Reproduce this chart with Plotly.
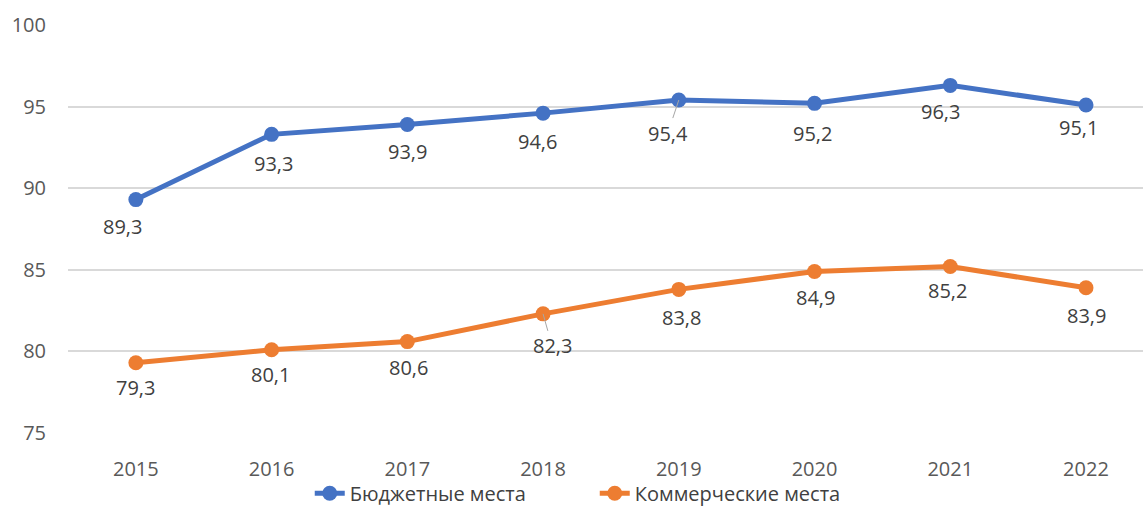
import plotly.graph_objects as go

years = ["2015", "2016", "2017", "2018", "2019", "2020", "2021", "2022"]
budget = [89.3, 93.3, 93.9, 94.6, 95.4, 95.2, 96.3, 95.1]
commercial = [79.3, 80.1, 80.6, 82.3, 83.8, 84.9, 85.2, 83.9]
series_names = ["Бюджетные места", "Коммерческие места"]
y_ticks = [75, 80, 85, 90, 95, 100]

# label offsets in pixels (dx, dy) relative to each point
budget_offsets = [(-13, 27), (2, 29), (0, 27), (-6, 28), (-11, 33), (-2, 30), (-10, 26), (-7, 23)]
commercial_offsets = [(0, 25), (-1, 25), (1, 26), (9, 32), (3, 28), (1, 26), (-3, 24), (1, 28)]
budget_leaders = [False, False, False, False, True, False, False, False]
commercial_leaders = [False, False, False, True, False, False, False, False]

BLUE = "#4472C4"
ORANGE = "#ED7D31"
FONT = "Open Sans"

fig = go.Figure()
for name, vals, color in [(series_names[0], budget, BLUE), (series_names[1], commercial, ORANGE)]:
    fig.add_trace(go.Scatter(
        x=years, y=vals, name=name, mode="lines+markers",
        line=dict(color=color, width=5),
        marker=dict(color=color, size=15),
    ))

def fmt(v):
    return f"{v:.1f}".replace(".", ",")

annotations = []
for vals, offs, leads in [(budget, budget_offsets, budget_leaders),
                          (commercial, commercial_offsets, commercial_leaders)]:
    for i, (v, (dx, dy), lead) in enumerate(zip(vals, offs, leads)):
        annotations.append(dict(
            x=i, y=v, xref="x", yref="y", text=fmt(v),
            showarrow=True, ax=dx, ay=dy, axref="pixel", ayref="pixel",
            arrowhead=0, arrowwidth=1,
            arrowcolor="#a6a6a6" if lead else "rgba(0,0,0,0)",
            standoff=0,
            font=dict(family=FONT, size=20, color="#404040"),
        ))

fig.update_layout(
    width=1143, height=509,
    margin=dict(l=68, r=0, t=25, b=76, autoexpand=False),
    paper_bgcolor="white", plot_bgcolor="white",
    showlegend=True,
    legend=dict(orientation="h", x=0.49, xanchor="center", y=-0.1, yanchor="top",
                bgcolor="rgba(0,0,0,0)",
                font=dict(family=FONT, size=20, color="#404040"),
                entrywidth=240, tracegroupgap=0),
    annotations=annotations,
    xaxis=dict(type="category", range=[-0.5, 7.42], showgrid=False, zeroline=False,
               showline=False, ticks="outside", ticklen=18, tickcolor="rgba(0,0,0,0)",
               tickfont=dict(family=FONT, size=20, color="#595959")),
    yaxis=dict(range=[75, 100], tickvals=y_ticks, showgrid=True, gridcolor="#d9d9d9",
               gridwidth=1.5, zeroline=False, showline=False,
               ticks="outside", ticklen=17, tickcolor="rgba(0,0,0,0)",
               tickfont=dict(family=FONT, size=20, color="#595959")),
)

fig.write_html("out.html", config={"displayModeBar": False},
               post_script="document.body.style.margin='0';document.body.style.overflow='hidden';")
